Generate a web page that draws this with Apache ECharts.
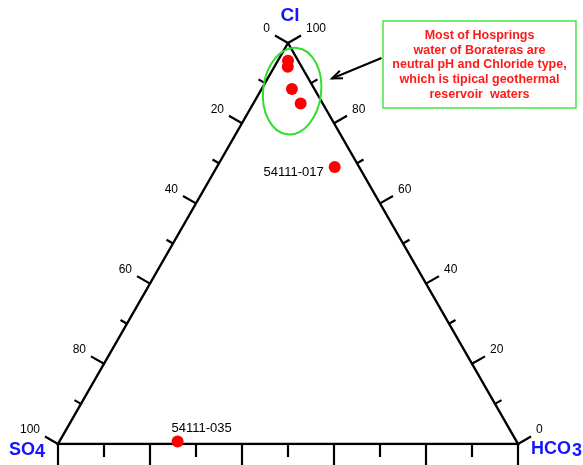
<!DOCTYPE html>
<html>
<head>
<meta charset="utf-8">
<script src="https://cdn.jsdelivr.net/npm/echarts@6/dist/echarts.min.js"></script>
<style>
  html, body { margin: 0; padding: 0; background: #fff; }
  #chart { width: 583px; height: 465px; }
</style>
</head>
<body>
<div id="chart"></div>
<script>
// Cl - SO4 - HCO3 ternary diagram of hot spring waters (percent of each anion)
const sampleNames = ['', '', '', '', '54111-017', '54111-035'];
const clPct   = [95.6, 94.1, 88.5, 84.9, 69.1, 0.6];
const so4Pct  = [2.2, 3.0, 4.9, 4.8, 5.3, 73.7];
const hco3Pct = [2.2, 2.9, 6.6, 10.3, 25.6, 25.7];

// ticks every 10 %, labels every 20 %
const tickSteps = [0, 10, 20, 30, 40, 50, 60, 70, 80, 90, 100];
const leftTickLabels  = ['0', '', '20', '', '40', '', '60', '', '80', '', '100'];
const rightTickLabels = ['100', '', '80', '', '60', '', '40', '', '20', '', '0'];

const noteLines = [
  'Most of Hosprings',
  'water of Borateras are',
  'neutral pH and Chloride type,',
  'which is tipical geothermal',
  'reservoir  waters'
];

const FONT = '"Liberation Sans", Arial, Helvetica, sans-serif';
const BLUE = '#1414ff';
const GREEN = '#2fdc2f';
const RED = '#ff0000';

// ternary composition -> plane coordinates (0..100 on both axes)
function ternaryXY(cl, so4, hco3) {
  const s = cl + so4 + hco3;
  return [(hco3 + cl / 2) / s * 100, cl / s * 100];
}

// points along each edge for t = 0..100
const edgeLeft   = t => ternaryXY(100 - t, t, 0);   // Cl apex -> SO4 corner
const edgeRight  = t => ternaryXY(100 - t, 0, t);   // Cl apex -> HCO3 corner
const edgeBottom = t => ternaryXY(0, 100 - t, t);   // SO4 corner -> HCO3 corner

function tickSeries(edgeFn, outward, labels, lens, labelSide) {
  return {
    type: 'custom',
    silent: true,
    clip: false,
    animation: false,
    z: 3,
    data: tickSteps.map(t => [t, 0]),
    encode: { x: 0, y: 1 },
    renderItem(params, api) {
      const t = api.value(0);
      const a = api.coord(edgeFn(0));
      const b = api.coord(edgeFn(100));
      let dx = b[0] - a[0], dy = b[1] - a[1];
      const L = Math.hypot(dx, dy);
      dx /= L; dy /= L;
      const nx = -dy * outward, ny = dx * outward;
      const p = api.coord(edgeFn(t));
      const len = (t % 20 === 0) ? lens[0] : lens[1];
      const e = [p[0] + nx * len, p[1] + ny * len];
      const children = [{
        type: 'line',
        shape: { x1: p[0], y1: p[1], x2: e[0], y2: e[1] },
        style: { stroke: '#000', lineWidth: 2.2 }
      }];
      const txt = labels ? labels[params.dataIndex] : '';
      if (txt) {
        children.push({
          type: 'text',
          style: {
            text: txt,
            x: e[0] + labelSide * 5,
            y: e[1] - 0.5,
            align: labelSide < 0 ? 'right' : 'left',
            verticalAlign: 'bottom',
            font: '12px ' + FONT,
            fill: '#000'
          }
        });
      }
      return { type: 'group', children };
    }
  };
}

const labelPlacement = {
  '54111-017': { position: 'left', offset: [0, 6] },
  '54111-035': { position: 'top', offset: [24, 4] }
};

const points = clPct.map((c, i) => {
  const item = { name: sampleNames[i], value: ternaryXY(c, so4Pct[i], hco3Pct[i]) };
  if (labelPlacement[sampleNames[i]]) {
    item.label = Object.assign({ show: true }, labelPlacement[sampleNames[i]]);
  }
  return item;
});

const chart = echarts.init(document.getElementById('chart'), null, { renderer: 'canvas' });

chart.setOption({
  animation: false,
  backgroundColor: '#fff',
  grid: { left: 58, right: 65, top: 43, bottom: 21 },
  xAxis: { type: 'value', min: 0, max: 100, show: false },
  yAxis: { type: 'value', min: 0, max: 100, show: false },
  series: [
    {
      type: 'line',
      silent: true,
      symbol: 'none',
      z: 2,
      lineStyle: { color: '#000', width: 2.4, join: 'miter' },
      data: [edgeLeft(0), edgeLeft(100), edgeBottom(100), edgeLeft(0)]
    },
    tickSeries(edgeLeft, 1, leftTickLabels, [15, 7.5], -1),
    tickSeries(edgeRight, -1, rightTickLabels, [15, 7.5], 1),
    tickSeries(edgeBottom, 1, null, [24, 13], 1),
    {
      type: 'scatter',
      z: 5,
      symbol: 'circle',
      symbolSize: 12,
      itemStyle: { color: RED, opacity: 1 },
      label: {
        show: false,
        formatter: '{b}',
        color: '#000',
        fontFamily: FONT,
        fontSize: 13
      },
      data: points
    }
  ]
});

// annotation: ellipse around the chloride-type group, note box and arrow
const ellipseCenter = chart.convertToPixel({ gridIndex: 0 }, ternaryXY(88.0, 5.1, 6.9));
const arrowFrom = [381.5, 58];
const arrowTo = [332, 78.5];
const ang = Math.atan2(arrowFrom[1] - arrowTo[1], arrowFrom[0] - arrowTo[0]);
const head = 11, spread = 0.38;

chart.setOption({
  graphic: [
    {
      type: 'ellipse',
      x: ellipseCenter[0],
      y: ellipseCenter[1],
      rotation: -0.115,
      shape: { cx: 0, cy: 0, rx: 29, ry: 43.5 },
      style: { fill: 'none', stroke: GREEN, lineWidth: 2 },
      z: 10
    },
    {
      type: 'rect',
      shape: { x: 383, y: 21, width: 193, height: 87 },
      style: { fill: '#fff', stroke: '#44e844', lineWidth: 1.5 },
      z: 10
    },
    {
      type: 'text',
      style: {
        text: noteLines.join('\n'),
        x: 479.5,
        y: 65,
        align: 'center',
        verticalAlign: 'middle',
        font: 'bold 12.5px ' + FONT,
        lineHeight: 14.8,
        fill: '#ff1a1a'
      },
      z: 11
    },
    {
      type: 'line',
      shape: { x1: arrowFrom[0], y1: arrowFrom[1], x2: arrowTo[0], y2: arrowTo[1] },
      style: { stroke: '#000', lineWidth: 2 },
      z: 10
    },
    {
      type: 'polyline',
      shape: {
        points: [
          [arrowTo[0] + head * Math.cos(ang - spread), arrowTo[1] + head * Math.sin(ang - spread)],
          arrowTo,
          [arrowTo[0] + head * Math.cos(ang + spread), arrowTo[1] + head * Math.sin(ang + spread)]
        ]
      },
      style: { stroke: '#000', lineWidth: 2, fill: 'none' },
      z: 10
    },
    {
      type: 'text',
      style: { text: 'Cl', x: 290, y: 16, align: 'center', verticalAlign: 'middle', font: 'bold 19px ' + FONT, fill: BLUE },
      z: 10
    },
    {
      type: 'text',
      style: { text: 'SO', x: 9, y: 459, align: 'left', verticalAlign: 'bottom', font: 'bold 18px ' + FONT, fill: BLUE },
      z: 10
    },
    {
      type: 'text',
      style: { text: '4', x: 35, y: 461, align: 'left', verticalAlign: 'bottom', font: 'bold 18px ' + FONT, fill: BLUE },
      z: 10
    },
    {
      type: 'text',
      style: { text: 'HCO', x: 531, y: 458, align: 'left', verticalAlign: 'bottom', font: 'bold 18px ' + FONT, fill: BLUE },
      z: 10
    },
    {
      type: 'text',
      style: { text: '3', x: 572, y: 460, align: 'left', verticalAlign: 'bottom', font: 'bold 18px ' + FONT, fill: BLUE },
      z: 10
    }
  ]
});
</script>
</body>
</html>
